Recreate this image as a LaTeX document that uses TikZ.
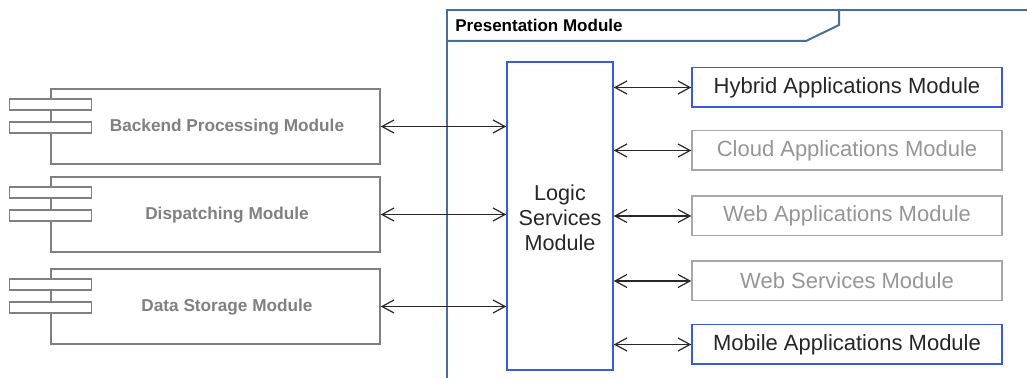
\documentclass[tikz,border=0pt]{standalone}
\usepackage{fontspec}
\setmainfont{Liberation Sans}
\usetikzlibrary{arrows.meta,positioning,calc}

\definecolor{modblue}{RGB}{59,89,219}
\definecolor{framecol}{RGB}{70,112,155}
\definecolor{compgray}{RGB}{128,128,128}
\definecolor{boxgray}{RGB}{168,168,168}
\definecolor{txtgray}{RGB}{150,150,150}
\definecolor{linkcol}{RGB}{40,40,40}

\tikzset{
  comp/.style={draw=compgray, line width=0.75pt, fill=white,
    minimum width=164.5pt, minimum height=37.5pt, inner sep=0pt},
  complabel/.style={text=compgray, font=\fontsize{8.6pt}{10pt}\selectfont\bfseries,
    xshift=5.75pt, yshift=-0.5pt},
  tabbox/.style={draw=compgray, line width=0.75pt, fill=white,
    minimum width=41pt, minimum height=5.5pt, inner sep=0pt},
  appbox/.style={draw=boxgray, line width=0.75pt, text=txtgray,
    minimum width=155pt, minimum height=19.75pt, inner sep=0pt,
    font=\fontsize{11pt}{13pt}\selectfont},
  keybox/.style={appbox, draw=modblue, text=black!85},
  logicbox/.style={draw=modblue, line width=0.75pt, text=black!85,
    minimum width=53pt, minimum height=154pt, inner sep=0pt, align=center,
    font=\fontsize{10.8pt}{12.5pt}\selectfont},
  framebox/.style={draw=framecol, line width=1pt},
  link/.style={draw=linkcol, line width=0.6pt,
    {Straight Barb[length=6pt,width=6.5pt]}-{Straight Barb[length=6pt,width=6.5pt]}},
}

\begin{document}
\begin{tikzpicture}[x=0.5pt,y=-0.5pt]
  \useasboundingbox (0,0) rectangle (1027,378);

  % presentation frame with its name tab
  \coordinate (fbl) at (447,378);
  \coordinate (ftl) at (447,10);
  \coordinate (ftr) at (1027,10);
  \coordinate (tabA) at (447,41);
  \coordinate (tabB) at (806,41);
  \coordinate (tabC) at (839,25);
  \coordinate (tabD) at (839,10);
  \path[framebox] (fbl) -- (ftl) -- (ftr);
  \path[framebox] (tabA) -- (tabB) -- (tabC) -- (tabD);
  \node[anchor=west, inner sep=0pt, font=\fontsize{8.5pt}{10pt}\selectfont\bfseries]
    (ftitle) at (455,25) {Presentation Module};

  % back-end components
  \node[comp, label={[complabel]center:Backend Processing Module}] (backend) at (215.5,126.5) {};
  \node[comp, label={[complabel]center:Dispatching Module}] (dispatch) at (215.5,214.5) {};
  \node[comp, label={[complabel]center:Data Storage Module}] (storage) at (215.5,306.5) {};
  \foreach \c in {backend,dispatch,storage}{
    \node[tabbox] (\c-t1) at ($(\c.north west)+(0,16.5)$) {};
    \node[tabbox] (\c-t2) at ($(\c.north west)+(0,39.5)$) {};
  }

  % logic layer
  \node[logicbox] (logic) at (560,216) {};
  \node[align=center, text=black!85, inner sep=0pt,
    font=\fontsize{10.8pt}{12.5pt}\selectfont] (logictext) at (560,218) {Logic\\Services\\Module};

  % client modules
  \node[keybox] (hybrid) at (847,87.5) {Hybrid Applications Module};
  \node[appbox] (cloud)  at (847,150.5) {Cloud Applications Module};
  \node[appbox] (webapp) at (847,216) {Web Applications Module};
  \node[appbox] (websvc) at (847,281) {Web Services Module};
  \node[keybox] (mobile) at (847,344.5) {Mobile Applications Module};

  % connectors
  \foreach \c in {backend,dispatch,storage}{
    \path[link] (\c.east) -- (logic.west |- \c.east);
  }
  \foreach \c in {hybrid,cloud,webapp,websvc,mobile}{
    \path[link] (logic.east |- \c.west) -- (\c.west);
  }
\end{tikzpicture}
\end{document}
